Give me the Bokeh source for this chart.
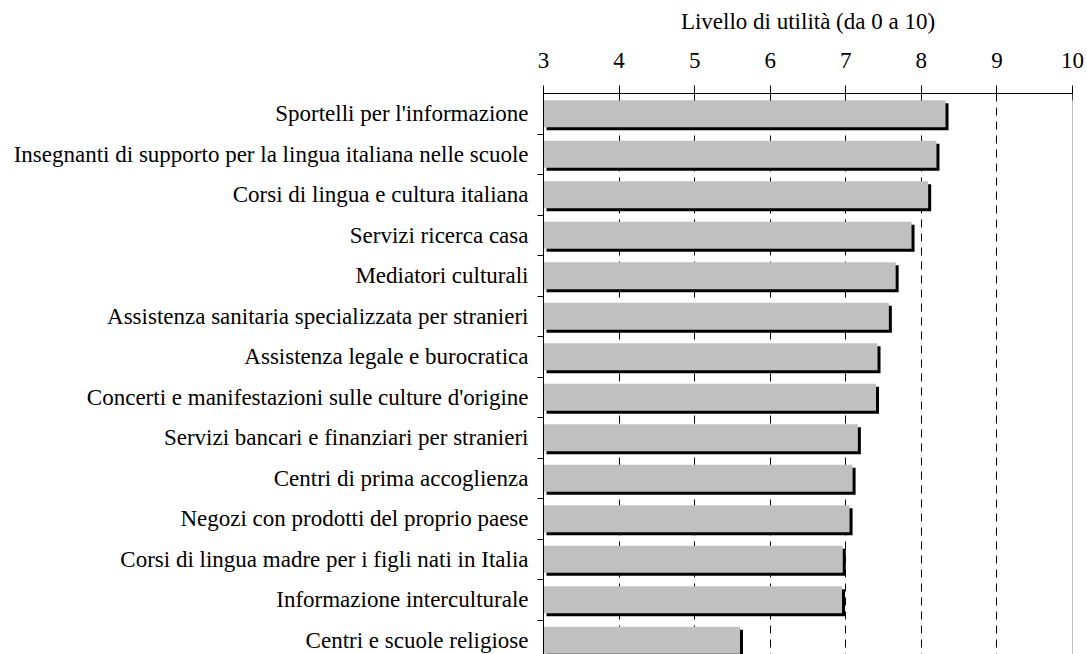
from bokeh.plotting import figure
from bokeh.models import Range1d, FixedTicker, Span
from bokeh.embed import file_html
from bokeh.resources import INLINE

categories = [
    "Sportelli per l'informazione",
    "Insegnanti di supporto per la lingua italiana nelle scuole",
    "Corsi di lingua e cultura italiana",
    "Servizi ricerca casa",
    "Mediatori culturali",
    "Assistenza sanitaria specializzata per stranieri",
    "Assistenza legale e burocratica",
    "Concerti e manifestazioni sulle culture d'origine",
    "Servizi bancari e finanziari per stranieri",
    "Centri di prima accoglienza",
    "Negozi con prodotti del proprio paese",
    "Corsi di lingua madre per i figli nati in Italia",
    "Informazione interculturale",
    "Centri e scuole religiose",
]
values = [8.32, 8.20, 8.09, 7.87, 7.66, 7.57, 7.42, 7.40, 7.16, 7.09, 7.05, 6.96, 6.95, 5.60]
x_ticks = [3, 4, 5, 6, 7, 8, 9, 10]
axis_title = "Livello di utilità (da 0 a 10)"

FONT = "Liberation Serif"
FS = "23px"

W, H = 1087, 654
ML, MR, MT = 543, 15, 93
frame_w = W - ML - MR
frame_h = H - MT
pitch = 40.5
x0, x1 = 3, 10
y_top = -0.5
y_bot = y_top + frame_h / pitch

p = figure(width=W, height=H, output_backend="svg", toolbar_location=None,
           x_axis_location="above", x_range=Range1d(x0, x1),
           y_range=Range1d(y_bot, y_top),
           min_border_left=ML, min_border_right=MR, min_border_top=MT,
           min_border_bottom=0)
p.outline_line_color = None
p.background_fill_color = "white"
p.border_fill_color = "white"

ys = list(range(len(categories)))
dx = 3 * (x1 - x0) / frame_w
dy = 3 / pitch
bh = 27 / pitch

# shadow
p.hbar(y=[y + dy for y in ys], left=x0 + dx, right=[v + dx for v in values],
       height=bh, fill_color="black", line_color=None)
# bars
p.hbar(y=ys, left=x0, right=values, height=bh, fill_color="#C0C0C0", line_color=None)

# grid
p.xgrid.ticker = FixedTicker(ticks=[4, 5, 6, 7, 8, 9])
p.xgrid.grid_line_color = "black"
p.xgrid.grid_line_dash = "8 6"
p.xgrid.grid_line_width = 1
p.ygrid.visible = False
p.add_layout(Span(location=10, dimension="height", line_color="#808080", line_width=1))

# top axis
xa = p.xaxis[0]
xa.ticker = FixedTicker(ticks=x_ticks)
xa.axis_label = axis_title
xa.axis_label_text_font = FONT
xa.axis_label_text_font_size = FS
xa.axis_label_text_font_style = "normal"
xa.axis_label_text_color = "black"
xa.axis_label_standoff = 16
xa.major_label_text_font = FONT
xa.major_label_text_font_size = FS
xa.major_label_text_color = "black"
xa.major_label_standoff = 18
xa.major_tick_in = 7
xa.major_tick_out = 8
xa.major_tick_line_color = "black"
xa.minor_tick_line_color = None
xa.axis_line_color = "black"

# left axis
ya = p.yaxis[0]
ya.ticker = FixedTicker(ticks=ys, minor_ticks=[y + 0.5 for y in ys])
ya.major_label_overrides = {i: c for i, c in enumerate(categories)}
ya.major_label_text_font = FONT
ya.major_label_text_font_size = FS
ya.major_label_text_color = "black"
ya.major_label_standoff = 9
ya.major_tick_in = 0
ya.major_tick_out = 0
ya.minor_tick_in = 0
ya.minor_tick_out = 6
ya.minor_tick_line_color = "black"
ya.axis_line_color = "black"

open("out.html", "w").write(file_html(p, INLINE))
